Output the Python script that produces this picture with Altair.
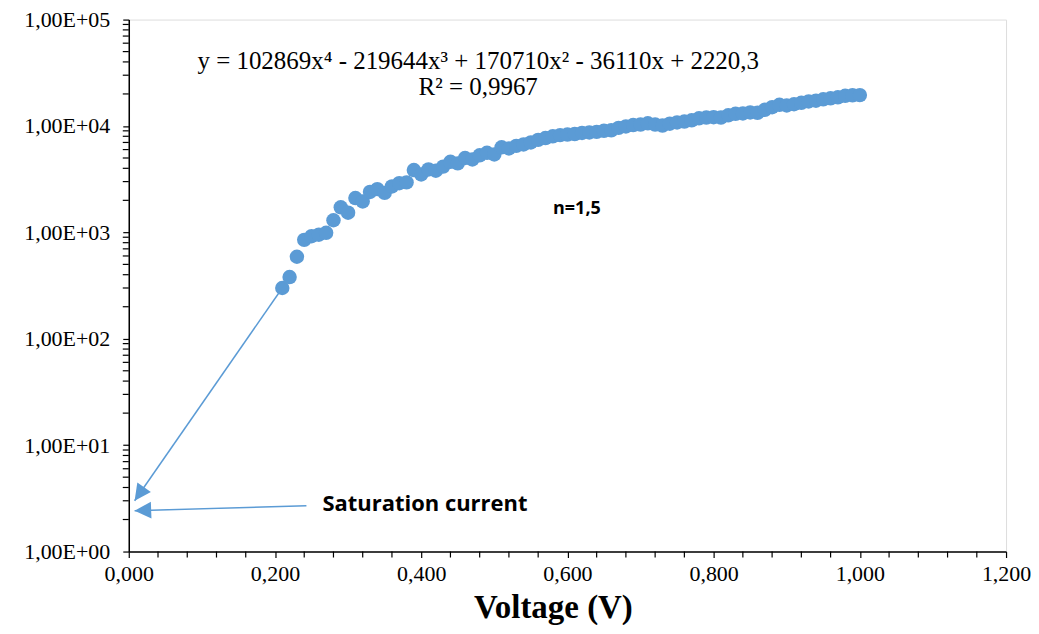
import altair as alt
import pandas as pd

# measured data (voltage V, current)
voltage = [0.21, 0.22, 0.23, 0.24, 0.25, 0.26, 0.27, 0.28, 0.29, 0.30,
           0.31, 0.32, 0.33, 0.34, 0.35, 0.36, 0.37, 0.38, 0.39, 0.40,
           0.41, 0.42, 0.43, 0.44, 0.45, 0.46, 0.47, 0.48, 0.49, 0.50,
           0.51, 0.52, 0.53, 0.54, 0.55, 0.56, 0.57, 0.58, 0.59, 0.60,
           0.61, 0.62, 0.63, 0.64, 0.65, 0.66, 0.67, 0.68, 0.69, 0.70,
           0.71, 0.72, 0.73, 0.74, 0.75, 0.76, 0.77, 0.78, 0.79, 0.80,
           0.81, 0.82, 0.83, 0.84, 0.85, 0.86, 0.87, 0.88, 0.89, 0.90,
           0.91, 0.92, 0.93, 0.94, 0.95, 0.96, 0.97, 0.98, 0.99, 1.00]
current = [300, 380, 590, 850, 920, 950, 990, 1300, 1720, 1530,
           2100, 1950, 2400, 2550, 2350, 2700, 2900, 2950, 3850, 3500,
           3900, 3800, 4150, 4600, 4450, 5000, 4850, 5300, 5600, 5400,
           6300, 6150, 6500, 6700, 7000, 7400, 7700, 8000, 8200, 8300,
           8400, 8600, 8700, 8800, 9000, 9100, 9600, 9900, 10200, 10300,
           10600, 10300, 10100, 10500, 10800, 11000, 11300, 11800, 12000, 12100,
           12000, 12600, 13000, 13100, 13400, 13300, 14200, 15000, 15800, 15600,
           16000, 16500, 17000, 17300, 17800, 18200, 18600, 19200, 19400, 19500]

# axis tick values
x_major = [0.0, 0.2, 0.4, 0.6, 0.8, 1.0, 1.2]
x_minor = [0.04, 0.08, 0.12, 0.16, 0.24, 0.28, 0.32, 0.36,
           0.44, 0.48, 0.52, 0.56, 0.64, 0.68, 0.72, 0.76,
           0.84, 0.88, 0.92, 0.96, 1.04, 1.08, 1.12, 1.16]
y_major = [1, 10, 100, 1000, 10000, 100000]
y_minor = [2, 3, 4, 5, 6, 7, 8, 9,
           20, 30, 40, 50, 60, 70, 80, 90,
           200, 300, 400, 500, 600, 700, 800, 900,
           2000, 3000, 4000, 5000, 6000, 7000, 8000, 9000,
           20000, 30000, 40000, 50000, 60000, 70000, 80000, 90000]

# annotation arrows (start -> tip) in data coordinates
arrow_x1 = [0.21, 0.243]
arrow_y1 = [300, 2.7]
arrow_x2 = [0.008, 0.008]
arrow_y2 = [3.0, 2.42]
arrow_angle = [215, 268]

# text annotations
text_labels = ["y = 102869x⁴ - 219644x³ + 170710x² - 36110x + 2220,3", "R² = 0,9967"]
text_x = [0.478, 0.478]
text_y = [40400, 23000]
note_labels = ["n=1,5", "Saturation current"]
note_x = [0.613, 0.265]
note_y = [1650, 2.82]

BLUE = "#5B9BD5"
W, H = 879, 533

df = pd.DataFrame({"v": voltage, "i": current})
arrows = pd.DataFrame({"x1": arrow_x1, "y1": arrow_y1, "x2": arrow_x2, "y2": arrow_y2, "ang": arrow_angle})
texts = pd.DataFrame({"t": text_labels, "x": text_x, "y": text_y})
notes_c = pd.DataFrame({"t": note_labels[:1], "x": note_x[:1], "y": note_y[:1]})
notes_l = pd.DataFrame({"t": note_labels[1:], "x": note_x[1:], "y": note_y[1:]})
xmin_df = pd.DataFrame({"x": x_minor})
ymin_df = pd.DataFrame({"y": y_minor})

x_scale = alt.Scale(domain=[0, 1.2], nice=False, zero=False)
y_scale = alt.Scale(type="log", domain=[1, 100000], nice=False)

x_axis = alt.Axis(
    values=x_major,
    labelExpr="replace(format(datum.value, '.3f'), '.', ',')",
    title="Voltage (V)", titleFont="Liberation Serif", titleFontSize=33, titleFontWeight="bold",
    titleColor="black", titlePadding=7, titleX=425, titleAlign="center",
    labelFont="Liberation Serif", labelFontSize=22, labelColor="black", labelFlush=False,
    labelOverlap=False, labelPadding=6,
    tickSize=6, tickColor="black", tickWidth=1.2, domainColor="black", domainWidth=1.5, grid=False,
)
y_axis = alt.Axis(
    values=y_major,
    labelExpr="'1,00E+0' + round(log(datum.value)/LN10)",
    title=None,
    labelFont="Liberation Serif", labelFontSize=22, labelColor="black", labelFlush=False,
    labelOverlap=False, labelPadding=13,
    tickSize=6, tickColor="black", tickWidth=1.2, domainColor="black", domainWidth=1.5, grid=False,
    minExtent=121, maxExtent=121,
)

points = alt.Chart(df).mark_circle(size=210, color=BLUE, opacity=1).encode(
    x=alt.X("v:Q", scale=x_scale, axis=x_axis),
    y=alt.Y("i:Q", scale=y_scale, axis=y_axis),
)

x_minor_ticks = alt.Chart(xmin_df).mark_rule(color="black", strokeWidth=1.2).encode(
    x=alt.X("x:Q", scale=x_scale), y=alt.value(H), y2=alt.value(H + 6),
)
y_minor_ticks = alt.Chart(ymin_df).mark_rule(color="black", strokeWidth=1.2).encode(
    y=alt.Y("y:Q", scale=y_scale), x=alt.value(-6), x2=alt.value(0),
)

lines = alt.Chart(arrows).mark_rule(color=BLUE, strokeWidth=1.5).encode(
    x=alt.X("x1:Q", scale=x_scale), y=alt.Y("y1:Q", scale=y_scale),
    x2="x2:Q", y2="y2:Q",
)

heads = alt.Chart(arrows).mark_point(
    shape="M0,0 L-0.5,1 L0.5,1 Z", filled=True, color=BLUE, opacity=1, size=1100, strokeWidth=0,
).encode(
    x=alt.X("x2:Q", scale=x_scale), y=alt.Y("y2:Q", scale=y_scale),
    angle=alt.Angle("ang:Q", scale=None),
)

eq = alt.Chart(texts).mark_text(
    font="Liberation Serif", fontSize=25, color="black", align="center", baseline="middle",
).encode(x=alt.X("x:Q", scale=x_scale), y=alt.Y("y:Q", scale=y_scale), text="t:N")

n_txt = alt.Chart(notes_c).mark_text(
    font="Open Sans", fontSize=18, fontWeight="bold", color="black", align="center", baseline="middle",
).encode(x=alt.X("x:Q", scale=x_scale), y=alt.Y("y:Q", scale=y_scale), text="t:N")

sat_txt = alt.Chart(notes_l).mark_text(
    font="Open Sans", fontSize=22, fontWeight="bold", color="black", align="left", baseline="middle",
).encode(x=alt.X("x:Q", scale=x_scale), y=alt.Y("y:Q", scale=y_scale), text="t:N")

chart = alt.layer(points, x_minor_ticks, y_minor_ticks, lines, heads, eq, n_txt, sat_txt).properties(
    width=W, height=H,
    padding={"left": 0, "top": 0, "right": 0, "bottom": 0},
).configure_view(stroke=None).configure(background="white")

chart.save("out.html", embed_options={"renderer": "svg", "actions": False})
